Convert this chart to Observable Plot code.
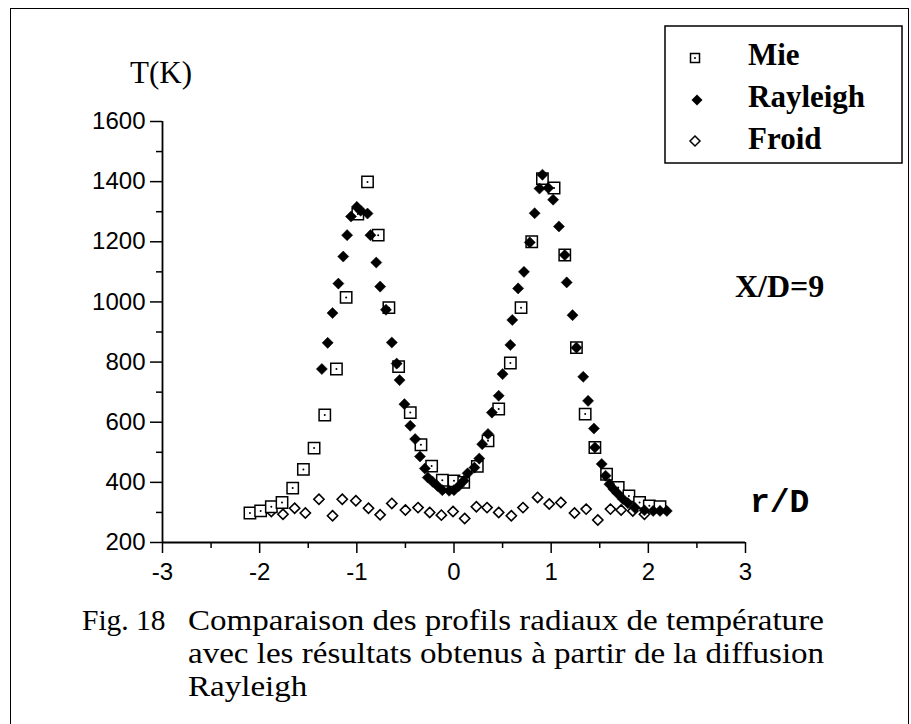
<!DOCTYPE html>
<html>
<head>
<meta charset="utf-8">
<script src="https://cdn.jsdelivr.net/npm/d3@7"></script>
<script src="https://cdn.jsdelivr.net/npm/@observablehq/plot@0.6"></script>
<style>
  html, body { margin: 0; padding: 0; background: #fff; }
  body { width: 911px; height: 724px; overflow: hidden; position: relative; }
  #chart { position: absolute; left: 0; top: 0; }
  #overlay { position: absolute; left: 0; top: 0; }
  #frame { position: absolute; left: 10px; top: 8px; width: 897px; height: 760px;
           border-left: 1.5px solid #000; border-top: 1.5px solid #000; border-right: 1.5px solid #000; }
  .cap { position: absolute; font-family: "Liberation Serif", serif; font-size: 29.5px; line-height: 33px; color: #000; white-space: nowrap;
         transform-origin: 0 0; }
  .wide { transform: scaleX(1.12); }
</style>
</head>
<body>
<div id="chart"></div>
<svg id="overlay" width="911" height="724"></svg>
<div id="frame"></div>
<div class="cap" style="left:82px; top:604px;">Fig. 18</div>
<div class="cap wide" style="left:188px; top:604px;">Comparaison des profils radiaux de température<br>avec les résultats obtenus à partir de la diffusion<br>Rayleigh</div>
<script>
// ---- data ----
const xTicks = [-3, -2, -1, 0, 1, 2, 3];
const xMinor = [-2.5, -1.5, -0.5, 0.5, 1.5, 2.5];
const yTicks = [200, 400, 600, 800, 1000, 1200, 1400, 1600];
const yMinor = [300, 500, 700, 900, 1100, 1300, 1500];

const mieR = [-2.10,-1.99,-1.88,-1.77,-1.66,-1.55,-1.44,-1.33,-1.21,-1.11,-0.99,-0.89,-0.78,-0.67,-0.57,-0.45,-0.34,-0.23,-0.12,0.00,0.10,0.24,0.35,0.46,0.58,0.69,0.80,0.91,1.03,1.14,1.26,1.35,1.45,1.57,1.69,1.80,1.91,2.01,2.12];
const mieT = [298,305,319,333,381,443,514,624,777,1015,1292,1399,1222,981,785,632,525,454,407,405,400,453,538,644,797,981,1200,1410,1379,1156,848,627,516,427,383,355,333,322,319];

const rayR = [-1.36,-1.30,-1.25,-1.19,-1.14,-1.10,-1.06,-1.00,-0.96,-0.89,-0.86,-0.80,-0.76,-0.70,-0.64,-0.59,-0.56,-0.51,-0.45,-0.40,-0.35,-0.30,-0.27,-0.22,-0.17,-0.12,-0.05,0.00,0.05,0.10,0.14,0.21,0.26,0.29,0.35,0.39,0.46,0.50,0.58,0.60,0.66,0.72,0.78,0.83,0.88,0.91,0.97,1.02,1.08,1.14,1.16,1.22,1.26,1.33,1.38,1.44,1.45,1.52,1.56,1.60,1.64,1.69,1.74,1.79,1.86,1.96,2.05,2.12,2.19];
const rayT = [777,864,963,1061,1151,1222,1284,1316,1303,1294,1222,1131,1051,974,865,795,740,660,588,544,486,446,416,402,388,374,372,374,388,405,430,449,479,527,561,632,688,760,857,940,1045,1100,1198,1295,1377,1423,1379,1340,1251,1156,1065,956,848,751,671,579,516,461,422,394,378,361,344,331,316,307,305,305,305];

const froidR = [-1.88,-1.76,-1.64,-1.53,-1.39,-1.25,-1.15,-1.01,-0.88,-0.76,-0.64,-0.50,-0.37,-0.25,-0.13,-0.01,0.11,0.23,0.34,0.46,0.59,0.71,0.86,0.98,1.10,1.24,1.36,1.48,1.61,1.72,1.84,1.96];
const froidT = [303,294,314,298,344,289,344,339,314,292,330,308,316,300,291,303,280,319,316,300,289,316,350,328,333,298,311,275,311,308,305,294];

const legendLabels = ["Mie", "Rayleigh", "Froid"];
const yLabel = "T(K)";
const xLabel = "r/D";
const note = "X/D=9";

// ---- build tables ----
const mie = mieR.map((r, i) => ({r, T: mieT[i]}));
const ray = rayR.map((r, i) => ({r, T: rayT[i]}));
const froid = froidR.map((r, i) => ({r, T: froidT[i]}));

const sans = "Liberation Sans, Arial, sans-serif";
const fmt = d => String(d);

const chart = Plot.plot({
  width: 911,
  height: 600,
  marginLeft: 162,
  marginRight: 166,
  marginTop: 121,
  marginBottom: 58,
  style: {background: "transparent", color: "#000", fontFamily: sans},
  x: {domain: [-3, 3], axis: null},
  y: {domain: [200, 1600], axis: null},
  marks: [
    Plot.axisY({ticks: yTicks, tickSize: 12, tickPadding: 5, tickFormat: fmt, fontSize: 24, fontFamily: sans, strokeWidth: 1.5, label: null}),
    Plot.axisY({ticks: yMinor, tickSize: 6, text: null, strokeWidth: 1.5, label: null}),
    Plot.axisX({ticks: xTicks, tickSize: 11, tickPadding: 9, tickFormat: fmt, fontSize: 24, fontFamily: sans, strokeWidth: 1.5, label: null}),
    Plot.axisX({ticks: xMinor, tickSize: 6, text: null, strokeWidth: 1.5, label: null}),
    Plot.ruleX([-3], {y1: 200, y2: 1600, strokeWidth: 1.8}),
    Plot.ruleY([200], {x1: -3, x2: 3, strokeWidth: 1.8}),
    Plot.dot(froid, {x: "r", y: "T", symbol: "diamond2", r: 4.6, stroke: "#000", strokeWidth: 1.6, fill: "#fff"}),
    Plot.dot(mie, {x: "r", y: "T", symbol: "square", r: 6.4, stroke: "#000", strokeWidth: 1.5, fill: "#fff"}),
    Plot.dot(ray, {x: "r", y: "T", symbol: "diamond2", r: 5.0, fill: "#000", stroke: "#000", strokeWidth: 0.5}),
    Plot.dot(mie, {x: "r", y: "T", r: 1, fill: "#000"})
  ]
});
document.getElementById("chart").appendChild(chart);

// ---- annotations and legend ----
const ov = d3.select("#overlay");
const serif = "Liberation Serif, Times New Roman, serif";
ov.append("text").attr("x", 130).attr("y", 83).attr("font-family", serif).attr("font-size", 31).text(yLabel);
ov.append("text").attr("x", 735).attr("y", 297).attr("font-family", serif).attr("font-weight", "bold").attr("font-size", 32).text(note);
ov.append("text").attr("x", 750).attr("y", 512).attr("font-family", "Liberation Mono, Courier New, monospace").attr("font-weight", "bold").attr("font-size", 33).text(xLabel);

ov.append("rect").attr("x", 665).attr("y", 26).attr("width", 237).attr("height", 137)
  .attr("fill", "none").attr("stroke", "#000").attr("stroke-width", 1.5);
const rowsY = [65, 107, 149];
const symY = [58, 100, 141];
// Mie symbol
ov.append("rect").attr("x", 690.5).attr("y", symY[0] - 4.5).attr("width", 9).attr("height", 9)
  .attr("fill", "#fff").attr("stroke", "#000").attr("stroke-width", 1.5);
ov.append("circle").attr("cx", 695).attr("cy", symY[0]).attr("r", 1).attr("fill", "#000");
// Rayleigh symbol
ov.append("path").attr("d", `M697,${symY[1]-5.5}L702.5,${symY[1]}L697,${symY[1]+5.5}L691.5,${symY[1]}Z`).attr("fill", "#000");
// Froid symbol
ov.append("path").attr("d", `M695,${symY[2]-5}L700,${symY[2]}L695,${symY[2]+5}L690,${symY[2]}Z`)
  .attr("fill", "#fff").attr("stroke", "#000").attr("stroke-width", 1.5);
legendLabels.forEach((t, i) => {
  ov.append("text").attr("x", 748).attr("y", rowsY[i]).attr("font-family", serif)
    .attr("font-weight", "bold").attr("font-size", 31).text(t);
});
</script>
</body>
</html>
